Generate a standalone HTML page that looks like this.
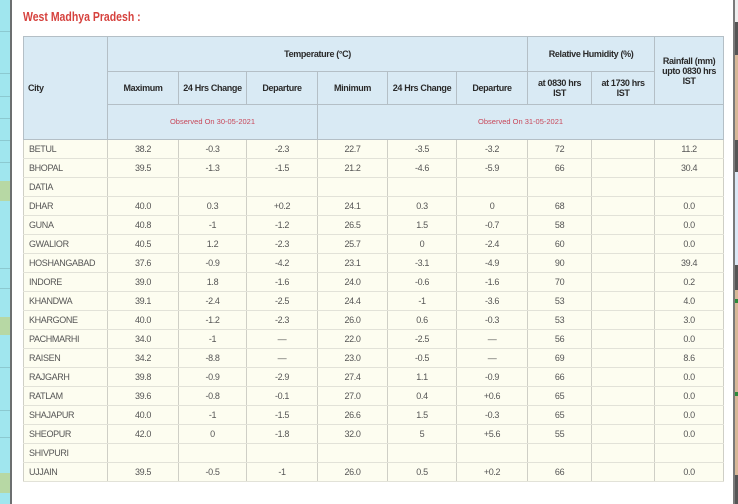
<!DOCTYPE html>
<html><head><meta charset="utf-8">
<style>
html,body{margin:0;padding:0;background:#fff;width:738px;height:504px;overflow:hidden;position:relative;font-family:"Liberation Sans",Arial,sans-serif;}
.ls{position:absolute;left:0;top:0;width:10px;height:504px;background:#a0e6ee;}
.ls div{position:absolute;left:0;width:10px;}
.lbar{position:absolute;left:10px;top:0;width:2px;height:504px;background:#6c6f70;}
.rbar{position:absolute;left:733px;top:0;width:2px;height:504px;background:#7a7a7a;}
.rs{position:absolute;left:735px;top:0;width:3px;height:504px;background:#eee;}
.rs div{position:absolute;left:0;width:3px;}
.title{position:absolute;left:23px;top:10px;font-size:12.5px;font-weight:bold;color:#d6423e;white-space:nowrap;transform:scaleX(0.84);transform-origin:left top;letter-spacing:0;}
table{position:absolute;left:23px;top:36px;border-collapse:collapse;table-layout:fixed;width:700px;font-size:9px;letter-spacing:-0.35px;}
td{padding:0;text-align:center;vertical-align:middle;overflow:hidden;white-space:nowrap;}
thead td{background:#d9eaf4;border:1px solid #b4bfc6;color:#2a2a2a;font-weight:bold;line-height:10px;}
thead td.city{text-align:left;padding-left:4px;}
thead td.obs{color:#c8485a;font-weight:normal;font-size:7.5px;letter-spacing:0;}
tbody td{background:#fdfdf0;border-left:1px solid #cfcfc6;border-right:1px solid #cfcfc6;border-top:1px solid #e2e2d8;border-bottom:1px solid #e2e2d8;color:#555;height:18px;}
tbody td:first-child{text-align:left;padding-left:5px;}
tbody tr{height:19px;}
</style></head><body>
<div class="ls">
  <div style="top:31px;height:1px;background:#8cc9d0"></div>
  <div style="top:73px;height:1px;background:#8cc9d0"></div>
  <div style="top:96px;height:1px;background:#8cc9d0"></div>
  <div style="top:118px;height:1px;background:#8cc9d0"></div>
  <div style="top:140px;height:1px;background:#8cc9d0"></div>
  <div style="top:162px;height:1px;background:#8cc9d0"></div>
  <div style="top:181px;height:20px;background:#b7d8a4"></div>
  <div style="top:268px;height:1px;background:#8cc9d0"></div>
  <div style="top:288px;height:1px;background:#8cc9d0"></div>
  <div style="top:317px;height:18px;background:#b7d8a4"></div>
  <div style="top:367px;height:1px;background:#8cc9d0"></div>
  <div style="top:410px;height:1px;background:#8cc9d0"></div>
  <div style="top:437px;height:1px;background:#8cc9d0"></div>
  <div style="top:473px;height:20px;background:#b7d8a4"></div>
</div>
<div class="lbar"></div>
<div class="rbar"></div>
<div class="rs">
  <div style="top:22px;height:33px;background:#555"></div>
  <div style="top:55px;height:85px;background:#d8b898"></div>
  <div style="top:140px;height:32px;background:#555"></div>
  <div style="top:172px;height:93px;background:#dce8f5"></div>
  <div style="top:265px;height:25px;background:#555"></div>
  <div style="top:290px;height:185px;background:#d8b898"></div>
  <div style="top:299px;height:4px;background:#2e8a3a"></div>
  <div style="top:392px;height:4px;background:#2e8a3a"></div>
  <div style="top:475px;height:29px;background:#555"></div>
</div>
<div class="title">West Madhya Pradesh :</div>
<table>
<colgroup><col style="width:84px"><col style="width:71px"><col style="width:68px"><col style="width:71px"><col style="width:70px"><col style="width:69px"><col style="width:71px"><col style="width:64px"><col style="width:63px"><col style="width:69px"></colgroup>
<thead>
<tr style="height:35px"><td class="city" rowspan="3">City</td><td colspan="6">Temperature (°C)</td><td colspan="2">Relative Humidity (%)</td><td rowspan="2">Rainfall (mm)<br>upto 0830 hrs<br>IST</td></tr>
<tr style="height:33px"><td>Maximum</td><td>24 Hrs Change</td><td>Departure</td><td>Minimum</td><td>24 Hrs Change</td><td>Departure</td><td>at 0830 hrs<br>IST</td><td>at 1730 hrs<br>IST</td></tr>
<tr style="height:35px"><td class="obs" colspan="3">Observed On 30-05-2021</td><td class="obs" colspan="6">Observed On 31-05-2021</td></tr>
</thead>
<tbody>
<tr><td>BETUL</td><td>38.2</td><td>-0.3</td><td>-2.3</td><td>22.7</td><td>-3.5</td><td>-3.2</td><td>72</td><td></td><td>11.2</td></tr>
<tr><td>BHOPAL</td><td>39.5</td><td>-1.3</td><td>-1.5</td><td>21.2</td><td>-4.6</td><td>-5.9</td><td>66</td><td></td><td>30.4</td></tr>
<tr><td>DATIA</td><td></td><td></td><td></td><td></td><td></td><td></td><td></td><td></td><td></td></tr>
<tr><td>DHAR</td><td>40.0</td><td>0.3</td><td>+0.2</td><td>24.1</td><td>0.3</td><td>0</td><td>68</td><td></td><td>0.0</td></tr>
<tr><td>GUNA</td><td>40.8</td><td>-1</td><td>-1.2</td><td>26.5</td><td>1.5</td><td>-0.7</td><td>58</td><td></td><td>0.0</td></tr>
<tr><td>GWALIOR</td><td>40.5</td><td>1.2</td><td>-2.3</td><td>25.7</td><td>0</td><td>-2.4</td><td>60</td><td></td><td>0.0</td></tr>
<tr><td>HOSHANGABAD</td><td>37.6</td><td>-0.9</td><td>-4.2</td><td>23.1</td><td>-3.1</td><td>-4.9</td><td>90</td><td></td><td>39.4</td></tr>
<tr><td>INDORE</td><td>39.0</td><td>1.8</td><td>-1.6</td><td>24.0</td><td>-0.6</td><td>-1.6</td><td>70</td><td></td><td>0.2</td></tr>
<tr><td>KHANDWA</td><td>39.1</td><td>-2.4</td><td>-2.5</td><td>24.4</td><td>-1</td><td>-3.6</td><td>53</td><td></td><td>4.0</td></tr>
<tr><td>KHARGONE</td><td>40.0</td><td>-1.2</td><td>-2.3</td><td>26.0</td><td>0.6</td><td>-0.3</td><td>53</td><td></td><td>3.0</td></tr>
<tr><td>PACHMARHI</td><td>34.0</td><td>-1</td><td>—</td><td>22.0</td><td>-2.5</td><td>—</td><td>56</td><td></td><td>0.0</td></tr>
<tr><td>RAISEN</td><td>34.2</td><td>-8.8</td><td>—</td><td>23.0</td><td>-0.5</td><td>—</td><td>69</td><td></td><td>8.6</td></tr>
<tr><td>RAJGARH</td><td>39.8</td><td>-0.9</td><td>-2.9</td><td>27.4</td><td>1.1</td><td>-0.9</td><td>66</td><td></td><td>0.0</td></tr>
<tr><td>RATLAM</td><td>39.6</td><td>-0.8</td><td>-0.1</td><td>27.0</td><td>0.4</td><td>+0.6</td><td>65</td><td></td><td>0.0</td></tr>
<tr><td>SHAJAPUR</td><td>40.0</td><td>-1</td><td>-1.5</td><td>26.6</td><td>1.5</td><td>-0.3</td><td>65</td><td></td><td>0.0</td></tr>
<tr><td>SHEOPUR</td><td>42.0</td><td>0</td><td>-1.8</td><td>32.0</td><td>5</td><td>+5.6</td><td>55</td><td></td><td>0.0</td></tr>
<tr><td>SHIVPURI</td><td></td><td></td><td></td><td></td><td></td><td></td><td></td><td></td><td></td></tr>
<tr><td>UJJAIN</td><td>39.5</td><td>-0.5</td><td>-1</td><td>26.0</td><td>0.5</td><td>+0.2</td><td>66</td><td></td><td>0.0</td></tr>
</tbody>
</table>
</body></html>
